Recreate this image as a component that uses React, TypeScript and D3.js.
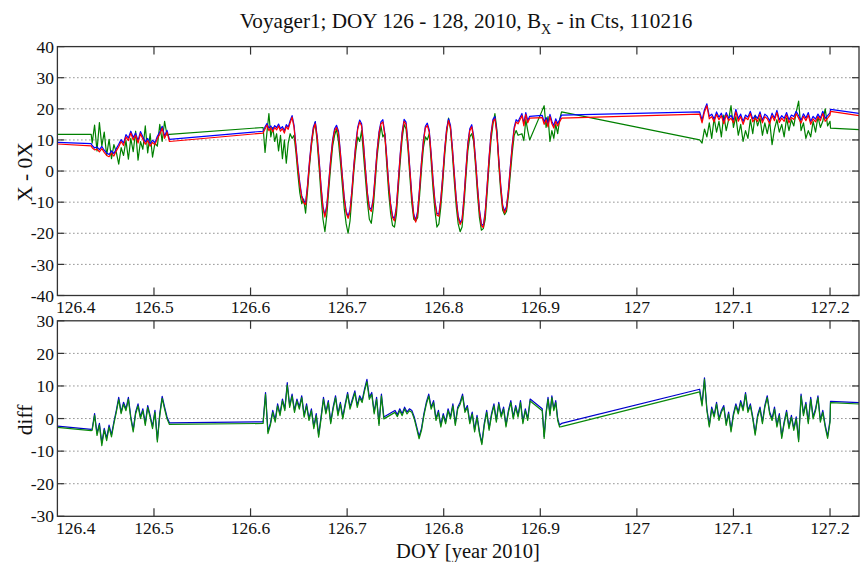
import React from 'react';
import * as d3 from 'd3';

// Voyager 1 magnetometer, B_X counts, DOY 126-128 2010

const W = 861;
const H = 562;

// ---- sampling times (day of year) ----
const LEAD_T = [126.4, 126.435];
const TAIL_T = [127.2005, 127.235];
const A_START = 126.436;
const A_STEP = 0.0025;
const B_START = 126.613;
const B_STEP = 0.002;
const C1_START = 126.881;
const C2_START = 126.902;
const C_STEP = 0.002;
const D_START = 127.065;
const D_STEP = 0.0025;
const DIFF_B1_START = 126.613;
const DIFF_B2_START = 126.7495;
const DIFF_B_STEP = 0.0025;

// ---- axis ticks ----
const X_TICKS = [126.4, 126.5, 126.6, 126.7, 126.8, 126.9, 127.0, 127.1, 127.2];
const TOP_Y_TICKS = [-40, -30, -20, -10, 0, 10, 20, 30, 40];
const BOT_Y_TICKS = [-30, -20, -10, 0, 10, 20, 30];

// ---- upper panel: X - 0X ----
const topBlueLead = [9.2, 8.8];
const topRedLead = [8.7, 8.1];
const topGreenLead = [11.8, 11.8];

const topBlueA = [8.2, 7.4, 7.8, 6.9, 7.9, 6.7, 5.8, 5.3, 6.5, 5.6, 7.2, 8.6, 10.1, 9.0, 11.7, 10.6, 12.8, 10.8, 12.2, 9.8, 12.7, 11.0, 9.3, 10.5, 8.8, 9.9, 9.1, 11.2, 12.5, 14.4, 11.2, 13.1, 10.2];
const topRedA = [7.5, 6.8, 7.0, 6.2, 7.2, 6.0, 5.0, 4.6, 5.8, 4.8, 6.5, 7.8, 9.5, 8.2, 11.0, 9.8, 12.2, 10.0, 11.5, 9.0, 12.0, 10.2, 8.6, 9.8, 8.0, 9.2, 8.4, 10.5, 11.8, 13.8, 10.5, 12.5, 9.5];
const topGreenA = [9.0, 14.8, 6.5, 15.6, 8.0, 12.5, 5.0, 10.2, 4.0, 8.5, 6.0, 2.2, 7.5, 5.0, 9.8, 3.8, 10.5, 6.2, 12.8, 3.5, 9.5, 7.0, 14.5, 5.8, 12.0, 4.5, 9.0, 8.0, 15.0, 9.5, 16.0, 11.5, 11.8];

const topBlueB = [
  12.8, 14.2, 15.3, 13.8, 14.5, 13.4, 14.6, 14.0, 15.1, 13.6,
  14.3, 13.0, 14.9, 14.1, 16.2, 17.8, 14.8, 8.2, 1.8, -3.8,
  -7.9, -9.6, -10.2, -4.4, 3.1, 9.4, 14.1, 15.9, 11.2, 3.7,
  -4.8, -11.4, -14.2, -10.9, -3.4, 4.1, 10.1, 13.6, 14.7, 12.9,
  6.2, -1.4, -8.4, -12.9, -14.6, -12.4, -5.9, 2.1, 9.1, 14.1,
  16.4, 15.2, 8.7, 0.6, -6.9, -11.6, -12.4, -8.9, -1.4, 6.6,
  12.6, 15.8, 16.5, 12.2, 4.7, -3.9, -10.4, -14.4, -15.4, -11.4,
  -2.9, 5.6, 12.6, 16.6, 15.7, 9.2, 0.6, -7.9, -13.9, -15.8,
  -12.9, -5.4, 3.1, 10.1, 14.4, 15.4, 13.2, 5.6, -2.9, -9.9,
  -13.6, -13.9, -8.9, -1.4, 7.1, 13.6, 16.8, 14.7, 7.6, -0.9,
  -8.9, -14.4, -16.6, -15.4, -8.4, 0.6, 9.1, 13.6, 14.9, 11.2,
  3.6, -4.9, -12.4, -16.9, -17.6, -12.9, -4.4, 4.6, 12.1, 16.6,
  17.5, 12.6, 4.1, -4.4, -10.9, -12.9, -11.4, -5.9, 1.6, 8.6,
  14.1, 16.5, 15.9,
];
const topRedB = [
  12.2, 13.5, 14.8, 13.0, 13.9, 12.6, 14.0, 13.2, 14.5, 12.8,
  13.6, 12.2, 14.3, 13.4, 15.5, 17.3, 14.0, 7.5, 1.0, -4.5,
  -8.5, -10.2, -10.8, -5.0, 2.5, 8.8, 13.5, 15.2, 10.5, 3.0,
  -5.5, -12.0, -14.8, -11.5, -4.0, 3.5, 9.5, 13.0, 14.0, 12.2,
  5.5, -2.0, -9.0, -13.5, -15.2, -13.0, -6.5, 1.5, 8.5, 13.5,
  15.8, 14.5, 8.0, 0.0, -7.5, -12.2, -13.0, -9.5, -2.0, 6.0,
  12.0, 15.2, 15.8, 11.5, 4.0, -4.5, -11.0, -15.0, -16.0, -12.0,
  -3.5, 5.0, 12.0, 16.0, 15.0, 8.5, 0.0, -8.5, -14.5, -16.4,
  -13.5, -6.0, 2.5, 9.5, 13.8, 14.7, 12.5, 5.0, -3.5, -10.5,
  -14.2, -14.5, -9.5, -2.0, 6.5, 13.0, 16.2, 14.0, 7.0, -1.5,
  -9.5, -15.0, -17.2, -16.0, -9.0, 0.0, 8.5, 13.0, 14.2, 10.5,
  3.0, -5.5, -13.0, -17.5, -18.2, -13.5, -5.0, 4.0, 11.5, 16.0,
  16.8, 12.0, 3.5, -5.0, -11.5, -13.5, -12.0, -6.5, 1.0, 8.0,
  13.5, 15.8, 15.2,
];
const topGreenB = [
  14.0, 6.0, 12.5, 18.5, 11.0, 14.0, 9.5, 12.0, 6.5, 11.5,
  4.0, 10.0, 2.5, 9.0, 12.0, 10.5, 11.5, 6.0, -1.0, -7.0,
  -10.5, -9.0, -13.5, -6.5, 1.5, 8.0, 13.0, 15.8, 9.0, 1.0,
  -8.0, -15.5, -19.5, -14.0, -6.0, 1.5, 8.0, 11.5, 13.5, 9.5,
  3.0, -4.5, -12.0, -17.0, -20.0, -16.0, -8.0, 0.0, 6.5, 11.0,
  9.5, 13.0, 5.0, -2.5, -10.0, -15.5, -16.8, -12.0, -4.0, 4.5,
  10.0, 14.5, 11.0, 12.0, 2.0, -7.0, -13.5, -17.5, -18.0, -14.0,
  -5.5, 3.0, 10.5, 15.0, 13.5, 7.0, -2.0, -10.5, -15.5, -16.0,
  -15.0, -8.0, 0.5, 7.5, 11.0, 10.0, 12.0, 3.0, -6.0, -13.0,
  -18.0, -17.0, -11.5, -4.0, 5.0, 12.0, 17.0, 13.5, 5.5, -3.5,
  -11.5, -17.0, -19.5, -18.0, -11.0, -2.0, 6.5, 11.0, 12.0, 9.5,
  1.5, -7.5, -15.0, -19.0, -18.5, -15.5, -7.0, 2.0, 10.0, 15.0,
  18.5, 13.5, 2.0, -6.5, -12.5, -14.0, -13.0, -8.0, -1.0, 6.0,
  11.5, 13.0, 11.5,
];

const topBlueC1 = [18.5, 15.3, 18.8, 16.2, 17.6];
const topRedC1 = [17.8, 14.5, 18.2, 15.5, 17.0];
const topGreenC1 = [12.0, 9.8, 16.5, 13.0, 10.0];

const topBlueC2 = [17.9, 15.8, 17.2, 15.0, 18.2, 16.0, 14.6, 16.8, 15.3, 16.5, 18.0];
const topRedC2 = [17.2, 15.0, 16.5, 14.2, 17.5, 15.2, 13.8, 16.0, 14.5, 15.8, 17.0];
const topGreenC2 = [19.5, 21.0, 14.0, 17.5, 9.5, 13.0, 10.5, 15.0, 12.0, 16.5, 19.0];

const topBlueD = [
  19.0, 16.4, 19.7, 21.6, 17.6, 18.3, 16.7, 19.0, 17.3, 18.6,
  16.1, 18.8, 17.0, 17.9, 16.4, 19.8, 16.9, 18.3, 15.9, 18.0,
  17.3, 19.2, 16.7, 17.8, 16.9, 19.0, 16.3, 18.3, 17.6, 16.1,
  18.6, 17.0, 19.5, 16.5, 17.8, 16.9, 18.8, 16.4, 18.0, 17.5,
  19.2, 17.8, 16.3, 18.4, 17.0, 18.8, 15.9, 17.6, 16.7, 18.3,
  17.0, 19.2, 16.9, 17.8, 18.7,
];
const topRedD = [
  18.3, 15.5, 19.0, 21.0, 16.8, 17.5, 15.8, 18.2, 16.5, 17.8,
  15.2, 18.0, 16.2, 17.0, 15.5, 19.0, 16.0, 17.5, 15.0, 17.2,
  16.5, 18.5, 15.8, 17.0, 16.0, 18.2, 15.5, 17.5, 16.8, 15.2,
  17.8, 16.2, 18.8, 15.6, 17.0, 16.0, 18.0, 15.5, 17.2, 16.6,
  18.4, 17.0, 15.4, 17.6, 16.2, 18.0, 15.0, 16.8, 15.8, 17.5,
  16.2, 18.5, 16.0, 17.0, 18.0,
];
const topGreenD = [
  10.0, 9.0, 13.5, 11.0, 15.5, 10.5, 17.0, 12.5, 16.0, 11.0,
  18.0, 13.0, 16.5, 21.0, 14.0, 17.5, 11.5, 15.0, 9.5, 13.0,
  10.5, 16.5, 12.0, 18.0, 14.5, 17.0, 11.5, 15.5, 12.0, 16.0,
  8.5, 13.5, 16.5, 12.5, 15.0, 11.0, 17.0, 13.0, 16.5, 14.5,
  19.0, 22.5, 13.0, 15.5, 10.5, 13.0, 11.0, 16.0, 12.5, 17.5,
  14.0, 16.0, 20.0, 14.5, 16.0,
];

const topBlueTail = [19.8, 18.3];
const topRedTail = [19.2, 17.6];
const topGreenTail = [13.8, 13.2];

// ---- lower panel: diff ----
const diffBlueLead = [-2.3, -3.3];
const diffGreenLead = [-2.7, -3.7];

const diffBlueA = [-3.2, 1.5, -4.5, -1.5, -7.5, -3.0, -6.0, -2.0, -5.0, -1.0, 2.5, 6.5, 2.0, 5.0, 3.0, 6.5, 0.5, -3.5, 2.0, 4.5, 0.5, 3.0, -1.5, 4.0, 1.0, -2.5, 2.5, -6.5, 1.5, 6.8, 3.5, 0.5, -1.3];
const diffGreenA = [-3.6, 1.0, -5.2, -2.0, -8.3, -3.5, -6.8, -2.6, -5.6, -1.6, 2.0, 5.8, 1.5, 4.4, 2.4, 5.9, 0.0, -4.1, 1.4, 3.9, 0.0, 2.4, -2.1, 3.4, 0.4, -3.1, 1.9, -7.2, 0.9, 6.2, 2.9, -0.1, -1.8];

const diffBlueB1 = [
  -1.0, 8.0, -4.0, -1.5, 2.5, -0.5, 4.5, 1.5, 6.0, 3.0,
  11.0, 4.0, 7.5, 2.5, 6.0, 3.5, 7.0, 1.0, 4.5, 0.0,
  3.0, -2.5, 1.5, -5.0, 0.5, 6.5, 2.0, 5.5, -1.0, 3.5,
  7.0, 1.5, 5.0, 0.5, 4.5, 8.0, 3.5, 6.0, 8.5, 4.0,
  7.0, 5.5, 9.0, 12.0, 6.5, 8.0, 2.0, 6.5, -1.5, 7.5,
  0.5,
];
const diffGreenB1 = [
  -1.5, 7.4, -4.6, -2.1, 1.9, -1.1, 3.9, 0.9, 5.4, 2.4,
  10.3, 3.4, 6.9, 1.9, 5.4, 2.9, 6.4, 0.4, 3.9, -0.6,
  2.4, -3.1, 0.9, -5.7, -0.1, 5.9, 1.4, 4.9, -1.6, 2.9,
  6.4, 0.9, 4.4, -0.1, 3.9, 7.4, 2.9, 5.4, 7.9, 3.4,
  6.4, 4.9, 8.4, 11.3, 5.9, 7.4, 1.4, 5.9, -2.1, 6.9,
  -0.1,
];
const diffBlueB2 = [
  2.5, 1.2, 3.0, 1.5, 3.5, 2.0, 3.0, 2.5, 0.5, -2.5,
  -5.5, -3.0, 1.5, 5.0, 7.5, 3.5, 5.5, 0.0, 2.5, -2.0,
  1.5, -1.0, 3.0, 0.5, 4.5, -1.5, 3.5, 5.0, 7.5, 2.5,
  4.0, -1.0, 2.0, -3.5, 1.0, -4.0, -7.5, -1.5, 2.5, -3.0,
  1.5, 4.5, -0.5, 5.0, 1.0, 3.5, -2.0, 2.5, 5.5, 0.5,
  4.0, 1.0, 5.5, -1.0, 3.0, 0.0, 6.0,
];
const diffGreenB2 = [
  1.9, 0.6, 2.4, 0.9, 2.9, 1.4, 2.4, 1.9, -0.1, -3.1,
  -6.2, -3.6, 0.9, 4.4, 6.9, 2.9, 4.9, -0.6, 1.9, -2.6,
  0.9, -1.6, 2.4, -0.1, 3.9, -2.1, 2.9, 4.4, 6.9, 1.9,
  3.4, -1.6, 1.4, -4.1, 0.4, -4.6, -8.0, -2.1, 1.9, -3.6,
  0.9, 3.9, -1.1, 4.4, 0.4, 2.9, -2.6, 1.9, 4.9, -0.1,
  3.4, 0.4, 4.9, -1.6, 2.4, -0.6, 5.4,
];
const diffBlueC2 = [3.0, -5.5, 2.0, 6.5, 1.5, 7.0, 3.0, 5.5, 0.0, -2.0, -1.5];
const diffGreenC2 = [2.4, -6.1, 1.4, 5.9, 0.9, 6.4, 2.4, 4.9, -0.6, -2.6, -2.5];

const diffBlueD = [
  9.0, 4.5, 12.5, 3.0, -2.0, 3.5, 1.0, 5.0, 0.0, 2.5,
  4.0, -1.5, 2.0, -3.5, 1.5, 4.5, 2.0, 5.5, 3.0, 8.0,
  2.5, 4.5, 0.5, -4.5, 1.0, 3.5, -1.0, 4.0, 7.0, 2.0,
  0.0, 3.5, -2.0, 1.5, -5.5, -1.0, 2.5, -2.5, 1.0, -3.0,
  0.5, -6.5, 7.5, 1.5, 5.0, -1.0, 6.5, 0.5, 3.0, 7.0,
  -0.5, 2.5, -2.0, -5.5, -0.5,
];
const diffGreenD = [
  8.2, 3.9, 12.0, 2.4, -2.6, 2.9, 0.4, 4.4, -0.6, 1.9,
  3.4, -2.1, 1.4, -4.1, 0.9, 3.9, 1.4, 4.9, 2.4, 7.4,
  1.9, 3.9, -0.1, -5.1, 0.4, 2.9, -1.6, 3.4, 6.4, 1.4,
  -0.6, 2.9, -2.6, 0.9, -6.1, -1.6, 1.9, -3.1, 0.4, -3.6,
  -0.1, -7.1, 6.9, 0.9, 4.4, -1.6, 5.9, -0.1, 2.4, 6.4,
  -1.1, 1.9, -2.6, -6.1, -1.1,
];

const diffBlueTail = [5.3, 4.8];
const diffGreenTail = [4.9, 4.4];

type Pt = [number, number];

// evenly sampled run of values starting at t0
const run = (t0: number, dt: number, vals: number[]): Pt[] =>
  vals.map((v, i) => [t0 + i * dt, v] as Pt);
// values paired with explicit times
const at = (ts: number[], vals: number[]): Pt[] => vals.map((v, i) => [ts[i], v] as Pt);

const topSeries = (
  lead: number[], a: number[], b: number[], c1: number[], c2: number[], d: number[], tail: number[]
): Pt[] => [
  ...at(LEAD_T, lead),
  ...run(A_START, A_STEP, a),
  ...run(B_START, B_STEP, b),
  ...run(C1_START, C_STEP, c1),
  ...run(C2_START, C_STEP, c2),
  ...run(D_START, D_STEP, d),
  ...at(TAIL_T, tail),
];

const diffSeries = (
  lead: number[], a: number[], b1: number[], b2: number[], c2: number[], d: number[], tail: number[]
): Pt[] => [
  ...at(LEAD_T, lead),
  ...run(A_START, A_STEP, a),
  ...run(DIFF_B1_START, DIFF_B_STEP, b1),
  ...run(DIFF_B2_START, DIFF_B_STEP, b2),
  ...run(C2_START, C_STEP, c2),
  ...run(D_START, D_STEP, d),
  ...at(TAIL_T, tail),
];

const topBlue = topSeries(topBlueLead, topBlueA, topBlueB, topBlueC1, topBlueC2, topBlueD, topBlueTail);
const topRed = topSeries(topRedLead, topRedA, topRedB, topRedC1, topRedC2, topRedD, topRedTail);
const topGreen = topSeries(topGreenLead, topGreenA, topGreenB, topGreenC1, topGreenC2, topGreenD, topGreenTail);
const diffBlue = diffSeries(diffBlueLead, diffBlueA, diffBlueB1, diffBlueB2, diffBlueC2, diffBlueD, diffBlueTail);
const diffGreen = diffSeries(diffGreenLead, diffGreenA, diffGreenB1, diffGreenB2, diffGreenC2, diffGreenD, diffGreenTail);

const FONT = "'Liberation Serif', 'Times New Roman', Times, serif";
const PLOT_L = 57.4;
const PLOT_R = 859;

const x = d3.scaleLinear().domain([126.4, 127.23]).range([PLOT_L, PLOT_R]);
const yTop = d3.scaleLinear().domain([-40, 40]).range([295.5, 46.6]);
const yBot = d3.scaleLinear().domain([-30, 30]).range([516.3, 320.8]);

const fmtX = (v: number) => String(+v.toFixed(1));

type PanelProps = {
  y: d3.ScaleLinear<number, number>;
  yTicks: number[];
  series: { data: Pt[]; color: string }[];
  xLabelY: number;
  id: string;
};

function Panel({ y, yTicks, series, xLabelY, id }: PanelProps) {
  const [y0, y1] = y.range();
  const top = Math.min(y0, y1);
  const bottom = Math.max(y0, y1);
  const line = d3
    .line<Pt>()
    .x((p) => x(p[0]))
    .y((p) => y(p[1]));
  const [dMin, dMax] = y.domain();
  return (
    <g>
      <defs>
        <clipPath id={id}>
          <rect x={PLOT_L} y={top} width={PLOT_R - PLOT_L} height={bottom - top} />
        </clipPath>
      </defs>
      {/* dotted horizontal grid */}
      {yTicks
        .filter((t) => t !== dMin && t !== dMax)
        .map((t) => (
          <line
            key={`g${t}`}
            x1={PLOT_L}
            x2={PLOT_R}
            y1={y(t)}
            y2={y(t)}
            stroke="#555"
            strokeWidth={1}
            strokeDasharray="1 3"
          />
        ))}
      <g clipPath={`url(#${id})`}>
        {series.map((s, i) => (
          <path key={i} d={line(s.data) || ''} fill="none" stroke={s.color} strokeWidth={1.2} strokeLinejoin="round" />
        ))}
      </g>
      {/* inward ticks */}
      {X_TICKS.slice(1).map((t) => (
        <g key={`xt${t}`} stroke="#333" strokeWidth={1.2}>
          <line x1={x(t)} x2={x(t)} y1={top} y2={top + 8} />
          <line x1={x(t)} x2={x(t)} y1={bottom} y2={bottom - 8} />
        </g>
      ))}
      {yTicks.map((t) => (
        <g key={`yt${t}`} stroke="#333" strokeWidth={1.2}>
          <line x1={PLOT_L} x2={PLOT_L + 7} y1={y(t)} y2={y(t)} />
          <line x1={PLOT_R} x2={PLOT_R - 7} y1={y(t)} y2={y(t)} />
        </g>
      ))}
      <rect x={PLOT_L} y={top} width={PLOT_R - PLOT_L} height={bottom - top} fill="none" stroke="#333" strokeWidth={1.3} />
      {/* tick labels */}
      {yTicks.map((t) => (
        <text key={`yl${t}`} x={54} y={y(t)} dy="0.35em" textAnchor="end" fontSize={17.5} fontFamily={FONT} fill="#111">
          {t}
        </text>
      ))}
      {X_TICKS.map((t, i) => (
        <text
          key={`xl${t}`}
          x={i === 0 ? 56 : x(t)}
          y={xLabelY}
          textAnchor={i === 0 ? 'start' : 'middle'}
          fontSize={17.5}
          fontFamily={FONT}
          fill="#111"
        >
          {fmtX(t)}
        </text>
      ))}
    </g>
  );
}

export default function App() {
  return (
    <svg
      width={W}
      height={H}
      viewBox={`0 0 ${W} ${H}`}
      style={{ position: 'absolute', left: 0, top: 0, background: '#fff' }}
    >
      <rect x={0} y={0} width={W} height={H} fill="#fff" />
      <text x={466} y={28} textAnchor="middle" fontSize={21.2} fontFamily={FONT} fill="#111">
        Voyager1; DOY 126 - 128, 2010, B
        <tspan dy={6} fontSize={14}>X</tspan>
        <tspan dy={-6}> - in Cts, 110216</tspan>
      </text>
      <Panel
        id="clip-top"
        y={yTop}
        yTicks={TOP_Y_TICKS}
        xLabelY={313}
        series={[
          { data: topGreen, color: '#008000' },
          { data: topBlue, color: '#0000ff' },
          { data: topRed, color: '#ff0000' },
        ]}
      />
      <Panel
        id="clip-bot"
        y={yBot}
        yTicks={BOT_Y_TICKS}
        xLabelY={534}
        series={[
          { data: diffBlue, color: '#0000cc' },
          { data: diffGreen, color: '#0b8a0b' },
        ]}
      />
      <text transform="translate(32,172) rotate(-90)" textAnchor="middle" fontSize={21.5} fontFamily={FONT} fill="#111">
        X - 0X
      </text>
      <text transform="translate(32,420) rotate(-90)" textAnchor="middle" fontSize={21.5} fontFamily={FONT} fill="#111">
        diff
      </text>
      <text x={468} y={557.5} textAnchor="middle" fontSize={20.5} fontFamily={FONT} fill="#111">
        DOY [year 2010]
      </text>
    </svg>
  );
}
